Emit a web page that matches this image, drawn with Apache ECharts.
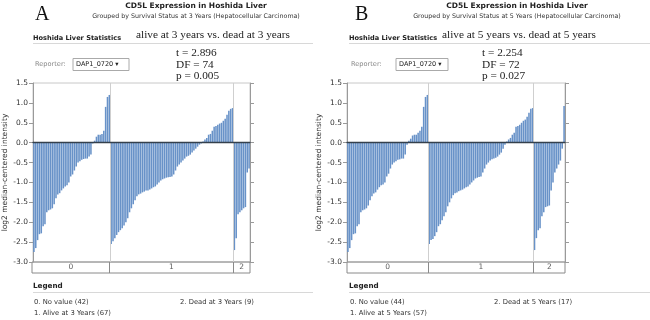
<!DOCTYPE html>
<html><head><meta charset="utf-8">
<script src="https://cdn.jsdelivr.net/npm/echarts@6/dist/echarts.min.js"></script>
<style>html,body{margin:0;padding:0;background:#fff}#c{width:650px;height:320px}</style>
</head><body><div id="c"></div>
<script>
// ---- data ----
const groupLabels = ['0', '1', '2'];
const yMin = -3.0, yMax = 1.5, yStep = 0.5;

const A_noValue = [-2.75,-2.65,-2.45,-2.3,-2.28,-2.1,-2.05,-1.75,-1.7,-1.68,-1.65,-1.55,-1.4,-1.3,-1.27,-1.2,-1.15,-1.1,-1.07,-1.0,-0.85,-0.8,-0.7,-0.6,-0.5,-0.47,-0.43,-0.41,-0.4,-0.4,-0.35,-0.3,-0.02,0.05,0.15,0.2,0.2,0.22,0.3,0.9,1.15,1.2];
const A_alive = [-2.55,-2.48,-2.4,-2.32,-2.25,-2.2,-2.15,-2.08,-2.0,-1.9,-1.75,-1.65,-1.55,-1.45,-1.35,-1.3,-1.28,-1.25,-1.23,-1.2,-1.2,-1.18,-1.15,-1.12,-1.1,-1.05,-1.0,-0.95,-0.92,-0.9,-0.88,-0.87,-0.86,-0.85,-0.8,-0.7,-0.6,-0.55,-0.5,-0.45,-0.4,-0.35,-0.33,-0.3,-0.25,-0.2,-0.15,-0.1,-0.05,-0.02,0.03,0.08,0.12,0.2,0.22,0.3,0.4,0.42,0.45,0.48,0.5,0.55,0.6,0.7,0.8,0.85,0.87];
const A_dead = [-2.7,-2.4,-1.8,-1.75,-1.7,-1.65,-1.62,-0.75,-0.65];

const B_noValue = [-2.75,-2.65,-2.45,-2.3,-2.28,-2.1,-2.05,-1.75,-1.7,-1.68,-1.65,-1.58,-1.45,-1.35,-1.28,-1.25,-1.18,-1.12,-1.07,-1.05,-1.0,-0.85,-0.78,-0.65,-0.55,-0.5,-0.47,-0.43,-0.42,-0.4,-0.4,-0.3,-0.05,0.05,0.1,0.18,0.2,0.2,0.25,0.3,0.4,0.9,1.15,1.2];
const B_alive = [-2.55,-2.45,-2.42,-2.35,-2.25,-2.1,-2.05,-1.95,-1.85,-1.75,-1.6,-1.5,-1.4,-1.32,-1.27,-1.25,-1.22,-1.2,-1.18,-1.15,-1.12,-1.1,-1.05,-1.0,-0.95,-0.9,-0.88,-0.86,-0.85,-0.75,-0.65,-0.55,-0.5,-0.45,-0.42,-0.4,-0.38,-0.35,-0.3,-0.25,-0.15,-0.05,0.03,0.08,0.12,0.2,0.25,0.4,0.42,0.45,0.5,0.55,0.58,0.65,0.75,0.85,0.87];
const B_dead = [-2.7,-2.4,-2.2,-2.15,-1.85,-1.75,-1.62,-1.6,-1.58,-1.2,-1.0,-0.75,-0.65,-0.55,-0.45,-0.15,0.92];

const titleText = 'CD5L Expression in Hoshida Liver';
const A_subtitle = 'Grouped by Survival Status at 3 Years (Hepatocellular Carcinoma)';
const B_subtitle = 'Grouped by Survival Status at 5 Years (Hepatocellular Carcinoma)';
const A_compare = 'alive at 3 years vs. dead at 3 years';
const B_compare = 'alive at 5 years vs. dead at 5 years';
const A_stats = ['t = 2.896', 'DF = 74', 'p = 0.005'];
const B_stats = ['t = 2.254', 'DF = 72', 'p = 0.027'];
const A_legend = ['0. No value (42)', '1. Alive at 3 Years (67)', '2. Dead at 3 Years (9)'];
const B_legend = ['0. No value (44)', '1. Alive at 5 Years (57)', '2. Dead at 5 Years (17)'];
const yName = 'log2 median-centered intensity';
const reporterLabel = 'Reporter:';
const reporterValue = 'DAP1_0720 \u25BE';

// ---- build ----
const SANS = '"DejaVu Sans", Verdana, sans-serif';
const SERIF = '"Liberation Serif", "Times New Roman", serif';
const grid = [], xAxis = [], yAxis = [], series = [], graphic = [];

function panel(p) {
  const groups = p.groups;
  const values = [].concat(...groups);
  const n = values.length;
  const cats = values.map((_, i) => String(i));
  const bounds = [];
  let acc = 0;
  const centers = [];
  groups.forEach((g, i) => { centers.push([acc + g.length / 2, 0.5, groupLabels[i]]); acc += g.length; if (i < groups.length - 1) bounds.push(acc); });

  const gi = grid.length;
  grid.push({left: p.left, top: p.top, width: p.width, height: p.height, show: true, borderColor: '#c8c8c8', borderWidth: 1, containLabel: false});
  grid.push({left: p.left, top: p.top + p.height, width: p.width, height: p.boxH, show: true, borderColor: '#8a8a8a', borderWidth: 1, containLabel: false});

  const xi = xAxis.length;
  xAxis.push({type: 'category', gridIndex: gi, data: cats, boundaryGap: true,
    axisLine: {show: true, onZero: true, lineStyle: {color: '#34404c', width: 1.3}},
    axisTick: {show: false}, axisLabel: {show: false}, splitLine: {show: false}, z: 5});
  xAxis.push({type: 'value', gridIndex: gi, min: 0, max: n, show: false});
  xAxis.push({type: 'value', gridIndex: gi + 1, min: 0, max: n, show: false});

  const yi = yAxis.length;
  const axisCommon = {type: 'value', gridIndex: gi, min: yMin, max: yMax, interval: yStep,
    axisLine: {show: true, lineStyle: {color: '#9a9a9a'}},
    axisTick: {show: true, inside: false, length: 4, lineStyle: {color: '#9a9a9a'}},
    splitLine: {show: false}};
  yAxis.push(Object.assign({}, axisCommon, {position: 'left',
    axisLabel: {show: true, fontSize: 7.5, color: '#333', fontFamily: SANS, margin: 5, formatter: v => v.toFixed(1)},
    name: yName, nameLocation: 'middle', nameGap: 24, nameRotate: 90,
    nameTextStyle: {fontSize: 7.5, color: '#333', fontFamily: SANS}}));
  yAxis.push(Object.assign({}, axisCommon, {position: 'right', axisLabel: {show: false}}));
  yAxis.push({type: 'value', gridIndex: gi + 1, min: 0, max: 1, show: false});

  series.push({type: 'bar', xAxisIndex: xi, yAxisIndex: yi, data: values, barCategoryGap: '16%',
    itemStyle: {color: '#6892c8'}, silent: true, animation: false, z: 2});
  series.push({type: 'line', xAxisIndex: xi + 1, yAxisIndex: yi, data: [[0, 0]], symbol: 'none', lineStyle: {opacity: 0}, silent: true, animation: false,
    markLine: {silent: true, symbol: 'none', animation: false, label: {show: false},
      lineStyle: {color: '#cfcfcf', width: 1, type: 'solid'}, data: bounds.map(b => ({xAxis: b}))}});
  series.push({type: 'scatter', xAxisIndex: xi + 2, yAxisIndex: yi + 2, data: centers, symbolSize: 0, silent: true, animation: false,
    label: {show: true, position: 'inside', formatter: d => d.value[2], fontSize: 7.5, color: '#333', fontFamily: SANS},
    markLine: {silent: true, symbol: 'none', animation: false, label: {show: false},
      lineStyle: {color: '#8a8a8a', width: 1, type: 'solid'}, data: bounds.map(b => ({xAxis: b}))}});

  const T = (text, x, y, font, fill, align) => graphic.push({type: 'text', silent: true,
    style: {text, x, y, font, fill: fill || '#222', textAlign: align || 'left', align: align || 'left', textVerticalAlign: 'middle', verticalAlign: 'middle'}});
  T(p.letter, p.letterX, 15, '20px ' + SERIF, '#111');
  T(titleText, p.titleX, 6, 'bold 7.5px ' + SANS, '#222', 'center');
  T(p.subtitle, p.titleX, 16, '6.3px ' + SANS, '#333', 'center');
  T('Hoshida Liver Statistics', p.secX, 38.5, 'bold 6.6px ' + SANS, '#222');
  T(p.compare, p.cmpX, 35, '11.3px ' + SERIF, '#222');
  graphic.push({type: 'line', silent: true, shape: {x1: p.secX, y1: 43.5, x2: p.lineEnd, y2: 43.5}, style: {stroke: '#d8d8d8', lineWidth: 1}});
  p.stats.forEach((s, i) => T(s, p.statX, 53 + i * 11.6, '11.3px ' + SERIF, '#222'));
  T(reporterLabel, p.secX + 2, 64.5, '6.6px ' + SANS, '#888');
  graphic.push({type: 'rect', silent: true, shape: {x: p.repX, y: 58.5, width: p.repW, height: 12}, style: {fill: '#fff', stroke: '#aaa', lineWidth: 1}});
  T(reporterValue, p.repX + 3, 64.5, '6.5px ' + SANS, '#222');
  T('Legend', p.secX, 286, 'bold 7.2px ' + SANS, '#222');
  graphic.push({type: 'line', silent: true, shape: {x1: p.secX, y1: 292.5, x2: p.lineEnd, y2: 292.5}, style: {stroke: '#d8d8d8', lineWidth: 1}});
  T(p.legend[0], p.secX + 1, 302.5, '6.8px ' + SANS, '#333');
  T(p.legend[1], p.secX + 1, 313, '6.8px ' + SANS, '#333');
  T(p.legend[2], p.leg2X, 302.5, '6.8px ' + SANS, '#333');
}

panel({groups: [A_noValue, A_alive, A_dead], left: 32, top: 83, width: 218, height: 179, boxH: 11,
  letter: 'A', letterX: 35, titleX: 196, subtitle: A_subtitle, compare: A_compare, secX: 33, cmpX: 136, lineEnd: 313,
  stats: A_stats, statX: 176, repX: 73, repW: 56, legend: A_legend, leg2X: 180});
panel({groups: [B_noValue, B_alive, B_dead], left: 347, top: 83, width: 218, height: 179, boxH: 11,
  letter: 'B', letterX: 355, titleX: 517, subtitle: B_subtitle, compare: B_compare, secX: 349, cmpX: 442, lineEnd: 650,
  stats: B_stats, statX: 482, repX: 396, repW: 52, legend: B_legend, leg2X: 494});

const chart = echarts.init(document.getElementById('c'), null, {renderer: 'canvas'});
chart.setOption({animation: false, backgroundColor: '#fff', grid, xAxis, yAxis, series, graphic});
</script></body></html>
